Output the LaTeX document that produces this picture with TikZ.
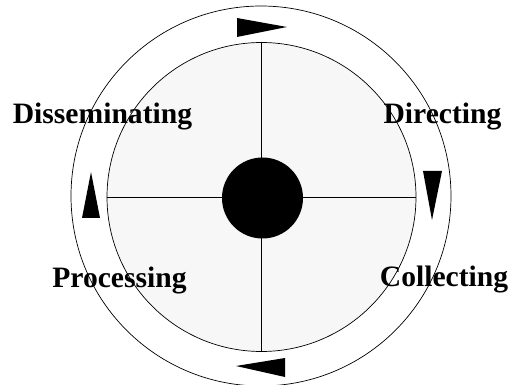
\documentclass[tikz,border=0pt]{standalone}
\usepackage{fontspec}
\setmainfont{Liberation Serif}
\usepackage{tikz}
\usetikzlibrary{positioning,calc}

\begin{document}
\begin{tikzpicture}[
        x=1pt, y=-1pt,
        ring/.style={circle, draw=black, line width=0.7pt, inner sep=0pt},
        hub/.style={circle, fill=black, inner sep=0pt, minimum size=81pt},
        phase/.style={font=\fontsize{29.6}{32}\selectfont\bfseries, anchor=base, inner sep=0pt},
        pointer/.style={fill=black, draw=none}
    ]
        \useasboundingbox (0,0) rectangle (515,385);

        % Ringe
        \node[ring, minimum size=380pt] (outer) at (261,196) {};
        \node[ring, fill=black!3, minimum size=309pt] (inner) at (261.5,197) {};

        % Achsen
        \draw[line width=0.8pt] (inner.west) -- (inner.east);
        \draw[line width=0.8pt] (inner.north) -- (inner.south);
        \node[hub] (hub) at (262.5,198) {};

        % Pfeile im Ring
        \fill[pointer] (237,18) -- (237,37) -- (287,27) -- cycle;
        \fill[pointer] (423,171) -- (442,171) -- (432,220) -- cycle;
        \fill[pointer] (285,358) -- (285,377) -- (236,366) -- cycle;
        \fill[pointer] (82,218) -- (100,218) -- (91,172) -- cycle;

        % Phasen
        \node[phase] (directing) at (442.5,124) {Directing};
        \node[phase] (collecting) at (444,287) {Collecting};
        \node[phase] (processing) at (119.5,288) {Processing};
        \node[phase] (disseminating) at (102.5,124) {Disseminating};

    \end{tikzpicture}
\end{document}
